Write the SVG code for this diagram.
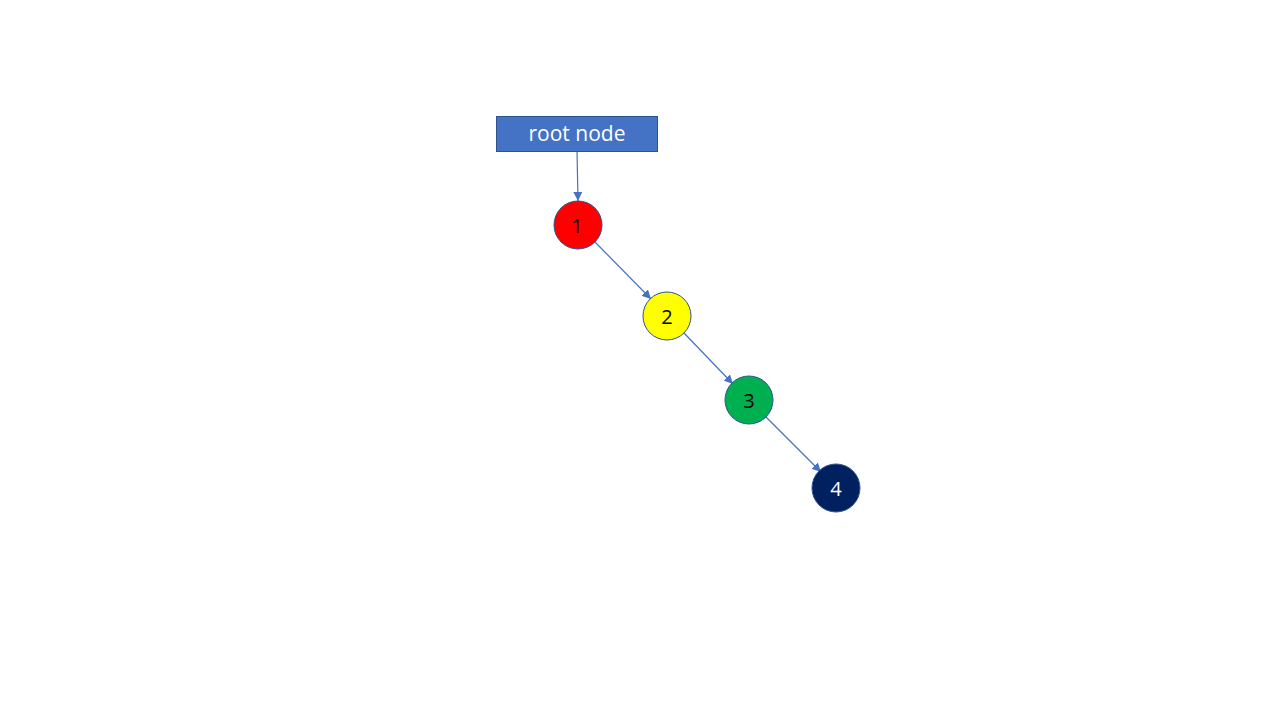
<svg xmlns="http://www.w3.org/2000/svg" width="1280" height="720" viewBox="0 0 1280 720">
<style>
.node{stroke:#2F528F;stroke-width:1}
.lbl{font-family:"Open Sans","Liberation Sans",sans-serif;font-size:20px;text-anchor:middle;dominant-baseline:central}
.root{font-size:21px}
.edge{stroke:#4472C4;stroke-width:1.2;fill:none;marker-end:url(#ah)}
</style>
<defs>
<marker id="ah" viewBox="0 0 10 10" refX="10" refY="5" markerWidth="9" markerHeight="9" markerUnits="userSpaceOnUse" orient="auto">
<path d="M0,0 L10,5 L0,10 Z" fill="#4472C4"/>
</marker>
</defs>
<rect width="1280" height="720" fill="#FFFFFF"/>
<g id="connectors">
<line class="edge" x1="577" y1="151" x2="578" y2="201"/>
<line class="edge" x1="595" y1="242" x2="651" y2="299"/>
<line class="edge" x1="684" y1="333" x2="733" y2="384"/>
<line class="edge" x1="766" y1="417" x2="821" y2="472"/>
</g>
<g id="root">
<rect x="496.5" y="116.5" width="161" height="35" fill="#4472C4" class="node"/>
<text class="lbl root" x="577" y="133" fill="#FFFFFF">root node</text>
</g>
<g id="n1">
<circle cx="578" cy="225" r="24" fill="#FF0000" class="node"/>
<text class="lbl" x="577" y="225" fill="#000000">1</text>
</g>
<g id="n2">
<circle cx="667" cy="316" r="24" fill="#FFFF00" class="node"/>
<text class="lbl" x="667" y="316" fill="#000000">2</text>
</g>
<g id="n3">
<circle cx="749" cy="400" r="24" fill="#00B050" class="node"/>
<text class="lbl" x="749" y="400" fill="#000000">3</text>
</g>
<g id="n4">
<circle cx="836" cy="488" r="24" fill="#002060" class="node"/>
<text class="lbl" x="836" y="488" fill="#FFFFFF">4</text>
</g>
</svg>
